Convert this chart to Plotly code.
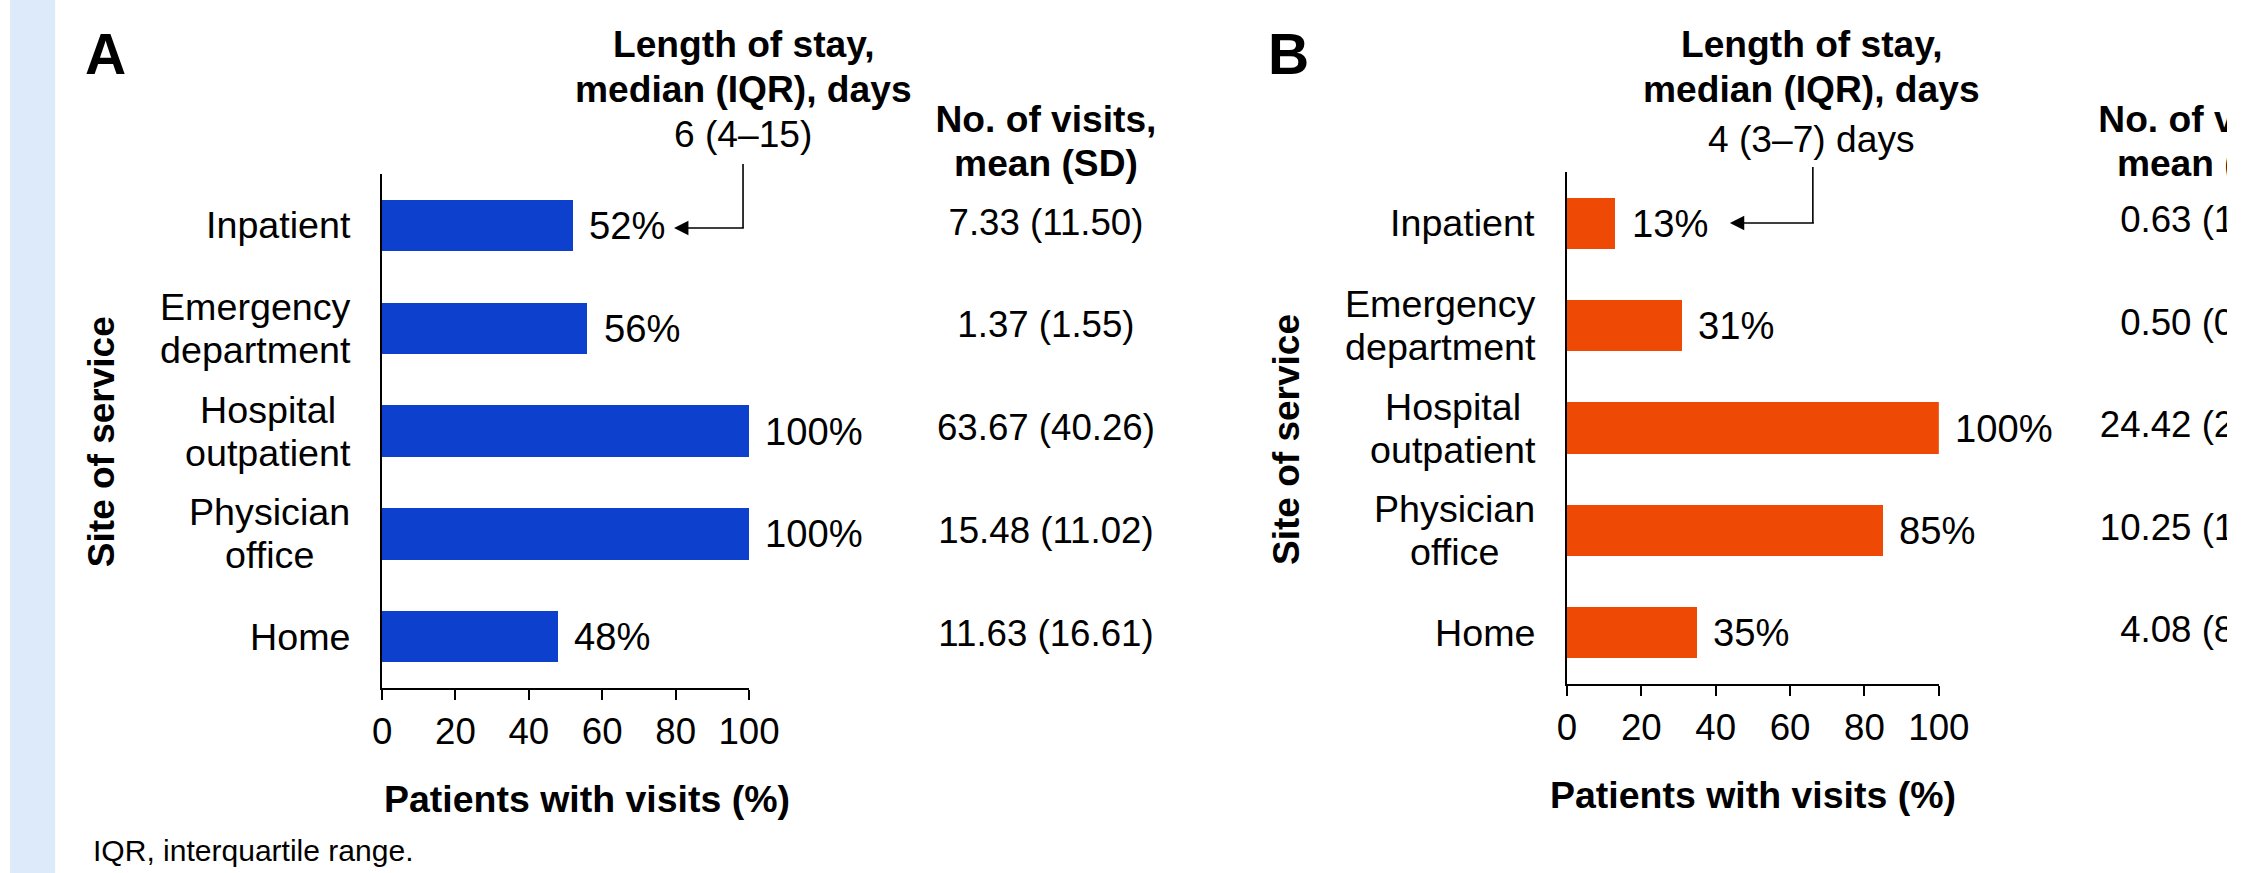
import plotly.graph_objects as go

# Figure size in pixels
W, H = 2258, 873

# The page is shown with an 8 px left margin and its width is fitted back into
# the window, so horizontal positions are written in window pixels and
# converted to figure pixels below (vertical positions map one to one).
S = 0.982
OFF = 8

FONT = "Liberation Sans, Arial, Helvetica, sans-serif"

# ---- data ----
sites = ["Inpatient", "Emergency department", "Hospital outpatient", "Physician office", "Home"]
site_lines = [["Inpatient"], ["Emergency", "department"], ["Hospital", "outpatient"],
              ["Physician", "office"], ["Home"]]
pct_a = [52, 56, 100, 100, 48]
pct_b = [13, 31, 100, 85, 35]
visits_a = ["7.33 (11.50)", "1.37 (1.55)", "63.67 (40.26)", "15.48 (11.02)", "11.63 (16.61)"]
visits_b = ["0.63 (1.92)", "0.50 (0.93)", "24.42 (24.61)", "10.25 (10.37)", "4.08 (8.54)"]
los_a = "6 (4–15)"
los_b = "4 (3–7) days"
x_ticks = [0, 20, 40, 60, 80, 100]

BLUE = "#0D41CD"
ORANGE = "#EE4A05"


def fs(v):
    """window pixels -> figure pixels for horizontal sizes and font sizes"""
    return v / S


def px(x):
    """window x -> paper fraction"""
    return (x / S - OFF) / W


def py(y):
    """window y (from top) -> paper fraction"""
    return 1 - y / H


LABEL_SIZE = fs(37)
LINE_GAP = 43  # distance between the two lines of a wrapped category label

# Arial / Liberation Sans advance widths (per 1000 em) for the category labels
ADV = {"I": 278, "n": 556, "p": 556, "a": 556, "t": 278, "i": 222, "e": 556, "E": 667,
       "m": 833, "r": 333, "g": 556, "c": 500, "y": 500, "d": 556, "H": 722, "o": 556,
       "s": 500, "l": 222, "u": 556, "P": 667, "h": 556, "f": 278}


def text_width(s, size):
    return sum(ADV.get(ch, 556) for ch in s) * size / 1000.0


# panel geometry (window pixels)
panels = [
    dict(letter="A", pct=pct_a, visits=visits_a, los=los_a, color=BLUE,
         xaxis="x", yaxis="y", x0=380, x1=747, ytop=174, ybot=688,
         letter_x=103, head_x=741, los_y=134, arrow_x=741, arrow_top=164,
         arrow_y=228, arrow_tip=672, col_x=1044, ytitle_x=99, ytitle_y=442, xtitle_x=585),
    dict(letter="B", pct=pct_b, visits=visits_b, los=los_b, color=ORANGE,
         xaxis="x2", yaxis="y2", x0=1565, x1=1937, ytop=172, ybot=684,
         letter_x=1287, head_x=1810, los_y=139, arrow_x=1811, arrow_top=167,
         arrow_y=223, arrow_tip=1728, col_x=2207, ytitle_x=1284, ytitle_y=439, xtitle_x=1751),
]

fig = go.Figure()
annotations = []
shapes = []

# light blue strip at the left edge
shapes.append(dict(type="rect", xref="paper", yref="paper", x0=0, x1=px(53), y0=0, y1=1,
                   fillcolor="#DCEAFA", line=dict(width=0), layer="below"))

idx = list(range(len(sites)))

for p in panels:
    fig.add_trace(go.Bar(
        x=p["pct"], y=idx, orientation="h", width=0.5,
        marker=dict(color=p["color"], line=dict(width=0)),
        xaxis=p["xaxis"], yaxis=p["yaxis"], showlegend=False, hoverinfo="skip",
    ))
    xr = p["xaxis"]
    yr = p["yaxis"]

    # panel letter
    annotations.append(dict(text="<b>%s</b>" % p["letter"], x=px(p["letter_x"]), y=py(53.5),
                            xref="paper", yref="paper", xanchor="center", yanchor="middle",
                            showarrow=False, font=dict(size=fs(56), color="black", family=FONT)))
    # length of stay header
    for txt, yy, bold in [("Length of stay,", 43.5, True), ("median (IQR), days", 89, True),
                          (p["los"], p["los_y"], False)]:
        annotations.append(dict(text=("<b>%s</b>" % txt) if bold else txt,
                                x=px(p["head_x"]), y=py(yy), xref="paper", yref="paper",
                                xanchor="center", yanchor="middle", showarrow=False,
                                font=dict(size=fs(36.5), color="black", family=FONT)))
    # elbow connector and arrow pointing at the inpatient label
    shapes.append(dict(type="line", xref="paper", yref="paper",
                       x0=px(p["arrow_x"]), x1=px(p["arrow_x"]),
                       y0=py(p["arrow_top"]), y1=py(p["arrow_y"]),
                       line=dict(color="black", width=1.6)))
    annotations.append(dict(text="", x=px(p["arrow_tip"]), y=py(p["arrow_y"]),
                            xref="paper", yref="paper", showarrow=True,
                            ax=fs(p["arrow_x"] - p["arrow_tip"]) + 1, ay=0,
                            arrowhead=2, arrowsize=1.8, arrowwidth=1.6, arrowcolor="black",
                            standoff=0, startstandoff=0))

    # visits column: header and values as clipped text traces on the window-pixel x axis
    fig.add_trace(go.Scatter(
        x=[p["col_x"], p["col_x"]], y=[123, 167],
        text=["<b>No. of visits,</b>", "<b>mean (SD)</b>"],
        mode="text", textposition="middle center", cliponaxis=True,
        textfont=dict(size=fs(36.5), color="black", family=FONT),
        xaxis="x3", yaxis="y3", showlegend=False, hoverinfo="skip",
    ))
    fig.add_trace(go.Scatter(
        x=[p["col_x"]] * len(idx), y=idx, text=p["visits"],
        mode="text", textposition="middle center", cliponaxis=True,
        textfont=dict(size=fs(36), color="black", family=FONT),
        xaxis="x3", yaxis=yr, showlegend=False, hoverinfo="skip",
    ))

    right_edge = p["x0"] - 33
    for i in idx:
        # category label, lines centred on each other, block right-aligned
        lines = site_lines[i]
        block_w = max(text_width(s, 37) for s in lines)
        cx = right_edge - block_w / 2
        n = len(lines)
        for k, s in enumerate(lines):
            shift = ((n - 1) / 2 - k) * LINE_GAP
            annotations.append(dict(text=s, x=px(cx), y=i, xref="paper", yref=yr,
                                    xanchor="center", yanchor="middle", yshift=shift,
                                    showarrow=False, borderpad=0,
                                    font=dict(size=LABEL_SIZE, color="black", family=FONT)))
        # percent label at bar end
        annotations.append(dict(text="%d%%" % p["pct"][i], x=p["pct"][i], y=i,
                                xref=xr, yref=yr, xanchor="left", yanchor="middle",
                                xshift=fs(15), showarrow=False, borderpad=0,
                                font=dict(size=fs(37.5), color="black", family=FONT)))

    # axis titles
    annotations.append(dict(text="<b>Site of service</b>", x=px(p["ytitle_x"]),
                            y=py(p["ytitle_y"]), xref="paper", yref="paper",
                            xanchor="center", yanchor="middle", textangle=-90, showarrow=False,
                            font=dict(size=37, color="black", family=FONT)))
    annotations.append(dict(text="<b>Patients with visits (%)</b>", x=px(p["xtitle_x"]),
                            y=py(p["ybot"] + 111), xref="paper", yref="paper",
                            xanchor="center", yanchor="middle", showarrow=False,
                            font=dict(size=fs(36.8), color="black", family=FONT)))

# footnote
annotations.append(dict(text="IQR, interquartile range.", x=px(90), y=py(850), xref="paper",
                        yref="paper", xanchor="left", yanchor="middle", showarrow=False,
                        borderpad=0, font=dict(size=fs(29.5), color="black", family=FONT)))

layout_axes = {}
for n, p in enumerate(panels):
    sx = "" if n == 0 else str(n + 1)
    layout_axes["xaxis" + sx] = dict(
        domain=[px(p["x0"]), px(p["x1"])], range=[0, 100], anchor=p["yaxis"],
        tickvals=x_ticks, ticktext=[str(v) for v in x_ticks],
        ticks="outside", ticklen=10, tickwidth=1.5, tickcolor="black",
        showline=True, linecolor="black", linewidth=2, showgrid=False, zeroline=False,
        tickfont=dict(size=fs(36), color="black", family=FONT), fixedrange=True,
    )
    layout_axes["yaxis" + sx] = dict(
        domain=[py(p["ybot"]), py(p["ytop"])], range=[4.5, -0.5], anchor=p["xaxis"],
        showline=True, linecolor="black", linewidth=1.5, showgrid=False, zeroline=False,
        showticklabels=False, ticks="", fixedrange=True,
    )

# hidden full-figure axes measured in window pixels, used to place the visits columns
layout_axes["xaxis3"] = dict(domain=[0, 1], range=[S * OFF, S * (W + OFF)], visible=False,
                             anchor="y3", fixedrange=True)
layout_axes["yaxis3"] = dict(domain=[0, 1], range=[H, 0], visible=False,
                             anchor="x3", fixedrange=True)

fig.update_layout(
    width=W, height=H, margin=dict(l=0, r=0, t=0, b=0),
    paper_bgcolor="white", plot_bgcolor="rgba(0,0,0,0)",
    font=dict(family=FONT, color="black"),
    annotations=annotations, shapes=shapes, bargap=0,
    **layout_axes,
)

fig.write_html("out.html", config={"displayModeBar": False})
